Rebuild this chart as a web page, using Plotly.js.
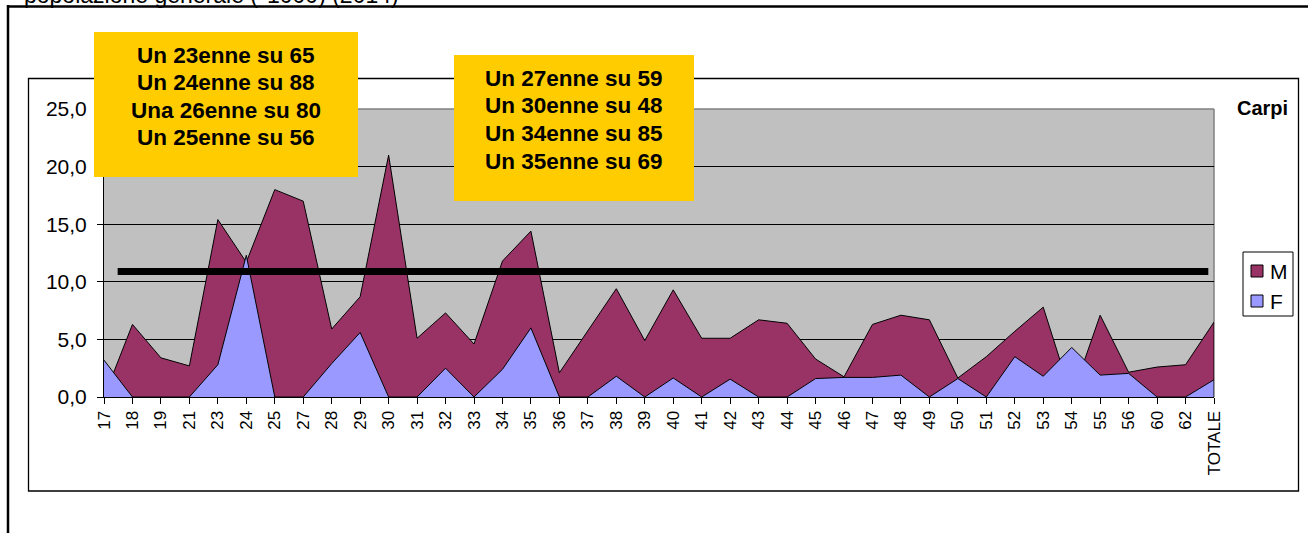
<!DOCTYPE html>
<html>
<head>
<meta charset="utf-8">
<script src="https://cdn.plot.ly/plotly-3.0.1.min.js"></script>
<style>
html,body{margin:0;padding:0;background:#fff;}
#chart{width:1308px;height:533px;}
</style>
</head>
<body>
<div id="chart"></div>
<script>
// ---- data ----
var categories = ['17','18','19','21','23','24','25','27','28','29','30','31','32','33','34','35','36','37','38','39','40','41','42','43','44','45','46','47','48','49','50','51','52','53','54','55','56','60','62','TOTALE'];
var valuesM = [0, 6.3, 3.4, 2.7, 15.4, 11.7, 18.0, 17.0, 5.9, 8.7, 21.0, 5.1, 7.3, 4.6, 11.8, 14.4, 2.1, 5.8, 9.4, 4.9, 9.3, 5.1, 5.1, 6.7, 6.4, 3.3, 1.75, 6.3, 7.1, 6.7, 1.65, 3.5, 5.7, 7.8, 0, 7.1, 2.15, 2.6, 2.8, 6.5];
var valuesF = [3.2, 0, 0, 0, 2.8, 12.3, 0, 0, 2.9, 5.6, 0, 0, 2.5, 0, 2.4, 6.0, 0, 0, 1.8, 0, 1.65, 0, 1.55, 0, 0, 1.6, 1.7, 1.7, 1.9, 0, 1.6, 0, 3.5, 1.8, 4.3, 1.9, 2.05, 0, 0, 1.5];
var seriesNames = ['M', 'F'];
var referenceValue = 10.9;
var yTickValues = [0, 5, 10, 15, 20, 25];
var titleText = 'popolazione generale (*1000) (2014)';
var placeName = 'Carpi';
var noteLeft = ['Un 23enne su 65', 'Un 24enne su 88', 'Una 26enne su 80', 'Un 25enne su 56'];
var noteRight = ['Un 27enne su 59', 'Un 30enne su 48', 'Un 34enne su 85', 'Un 35enne su 69'];

// ---- layout helpers (pixel -> paper) ----
var W = 1308, H = 533;
var L = 104, R = 1214, T = 109, B = 397;
function px(x){ return (x - L) / (R - L); }
function py(y){ return (B - y) / (B - T); }

var FONT = 'Arial, "Liberation Sans", sans-serif';
var colM = '#993366', colF = '#9999FF';

var traces = [
  {x: categories, y: valuesM, name: seriesNames[0], type: 'scatter', mode: 'lines',
   fill: 'tozeroy', fillcolor: colM, line: {color: '#000', width: 1}, showlegend: false, hoverinfo: 'skip'},
  {x: categories, y: valuesF, name: seriesNames[1], type: 'scatter', mode: 'lines',
   fill: 'tozeroy', fillcolor: colF, line: {color: '#000', width: 1}, showlegend: false, hoverinfo: 'skip'}
];

var shapes = [
  // plot area top and right borders (grey)
  {type: 'line', xref: 'paper', yref: 'paper', x0: 0, x1: 1, y0: 1, y1: 1, line: {color: '#808080', width: 1.5}, layer: 'between'},
  {type: 'line', xref: 'paper', yref: 'paper', x0: 1, x1: 1, y0: 0, y1: 1, line: {color: '#808080', width: 1.5}, layer: 'between'},
  // right edge of the M area
  {type: 'line', xref: 'x', yref: 'y', x0: categories.length - 1, x1: categories.length - 1, y0: 0, y1: valuesM[valuesM.length - 1], line: {color: '#000', width: 1}, layer: 'above'},
  // reference line
  {type: 'line', xref: 'x', yref: 'y', x0: 0.48, x1: 38.8, y0: referenceValue, y1: referenceValue, line: {color: '#000', width: 7}, layer: 'above'},
  // outer frame
  {type: 'line', xref: 'paper', yref: 'paper', x0: px(8), x1: px(8), y0: py(5), y1: py(540), line: {color: '#000', width: 2.5}, layer: 'above'},
  {type: 'line', xref: 'paper', yref: 'paper', x0: px(7), x1: px(1320), y0: py(6.5), y1: py(6.5), line: {color: '#000', width: 2.5}, layer: 'above'},
  // inner frame
  {type: 'rect', xref: 'paper', yref: 'paper', x0: px(28.5), x1: px(1298.5), y0: py(78.5), y1: py(491), line: {color: '#000', width: 1.3}, layer: 'below'},
  // yellow boxes
  {type: 'rect', xref: 'paper', yref: 'paper', x0: px(94), x1: px(358), y0: py(32), y1: py(177), fillcolor: '#FFCC00', line: {width: 0}, layer: 'above'},
  {type: 'rect', xref: 'paper', yref: 'paper', x0: px(454), x1: px(694), y0: py(55), y1: py(201), fillcolor: '#FFCC00', line: {width: 0}, layer: 'above'},
  // legend box and swatches
  {type: 'rect', xref: 'paper', yref: 'paper', x0: px(1243), x1: px(1293), y0: py(252), y1: py(316), fillcolor: '#fff', line: {color: '#000', width: 1}, layer: 'above'},
  {type: 'rect', xref: 'paper', yref: 'paper', x0: px(1251), x1: px(1263), y0: py(265), y1: py(277), fillcolor: colM, line: {color: '#000', width: 1}, layer: 'above'},
  {type: 'rect', xref: 'paper', yref: 'paper', x0: px(1251), x1: px(1263), y0: py(295), y1: py(307), fillcolor: colF, line: {color: '#000', width: 1}, layer: 'above'}
];

var annotations = [
  {xref: 'paper', yref: 'paper', x: px(22), y: py(10), xanchor: 'left', yanchor: 'bottom', showarrow: false,
   text: titleText, font: {family: FONT, size: 23, color: '#000'}},
  {xref: 'paper', yref: 'paper', x: px(1262), y: py(108), xanchor: 'center', yanchor: 'middle', showarrow: false,
   text: '<b>' + placeName + '</b>', font: {family: FONT, size: 20, color: '#000'}},
  {xref: 'paper', yref: 'paper', x: px(1268), y: py(271), xanchor: 'left', yanchor: 'middle', showarrow: false,
   text: seriesNames[0], font: {family: FONT, size: 21, color: '#000'}},
  {xref: 'paper', yref: 'paper', x: px(1268), y: py(301), xanchor: 'left', yanchor: 'middle', showarrow: false,
   text: seriesNames[1], font: {family: FONT, size: 21, color: '#000'}}
];
// note lines, one annotation per line
var leftLineY = [55, 82.3, 110, 137.3];
var rightLineY = [78.3, 105.7, 133.3, 161.7];
noteLeft.forEach(function(t, i){
  annotations.push({xref: 'paper', yref: 'paper', x: px(226), y: py(leftLineY[i]), xanchor: 'center', yanchor: 'middle', showarrow: false,
    text: '<b>' + t + '</b>', font: {family: FONT, size: 22.5, color: '#000'}});
});
noteRight.forEach(function(t, i){
  annotations.push({xref: 'paper', yref: 'paper', x: px(574), y: py(rightLineY[i]), xanchor: 'center', yanchor: 'middle', showarrow: false,
    text: '<b>' + t + '</b>', font: {family: FONT, size: 22.5, color: '#000'}});
});

var layout = {
  width: W, height: H,
  margin: {l: L, r: W - R, t: T, b: H - B, pad: 0},
  paper_bgcolor: '#fff',
  plot_bgcolor: '#C0C0C0',
  separators: ',.',
  showlegend: false,
  font: {family: FONT, color: '#000'},
  xaxis: {
    type: 'category', range: [0, categories.length - 1], autorange: false,
    showgrid: false, zeroline: false,
    showline: true, linecolor: '#000', linewidth: 1,
    ticks: 'outside', ticklen: 6, tickcolor: '#000', tickwidth: 1,
    tickangle: -90, tickfont: {family: FONT, size: 17, color: '#000'},
    fixedrange: true
  },
  yaxis: {
    range: [0, 25], autorange: false,
    tickvals: yTickValues, tickformat: '.1f',
    showgrid: true, gridcolor: '#000', gridwidth: 1,
    zeroline: false,
    showline: true, linecolor: '#000', linewidth: 1,
    ticks: 'outside', ticklen: 6, tickcolor: '#000', tickwidth: 1,
    ticklabelstandoff: 6,
    tickfont: {family: FONT, size: 21, color: '#000'},
    fixedrange: true
  },
  shapes: shapes,
  annotations: annotations
};

Plotly.newPlot('chart', traces, layout, {staticPlot: true, displayModeBar: false});
</script>
</body>
</html>
